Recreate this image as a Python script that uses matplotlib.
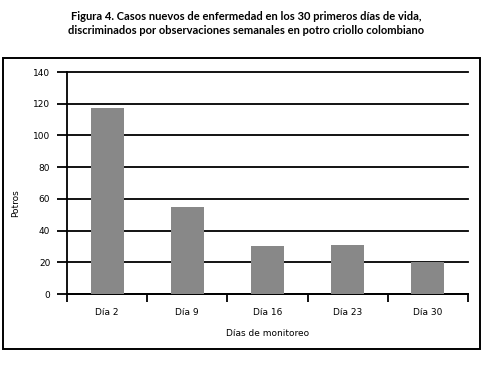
import matplotlib
matplotlib.use("Agg")
import matplotlib.pyplot as plt
from matplotlib.patches import Rectangle
import numpy as np

categories = ["Día 2", "Día 9", "Día 16", "Día 23", "Día 30"]
values = [117, 55, 30, 31, 20]
yticks = [0, 20, 40, 60, 80, 100, 120, 140]

W, H = 492, 366
fig = plt.figure(figsize=(W/100, H/100), dpi=100)

def fx(px): return px / W
def fy(py): return 1 - py / H

# outer frame
fig.patches.append(Rectangle((fx(3), fy(349)), fx(480) - fx(3), fy(58) - fy(349),
                             transform=fig.transFigure, fill=False, lw=1.4, ec="black"))

ax = fig.add_axes([fx(67), fy(294), fx(468) - fx(67), fy(72) - fy(294)])
x = np.arange(len(categories))
ax.bar(x, values, width=0.41, color="#888888", zorder=3)
ax.set_xlim(-0.5, len(categories) - 0.5)
ax.set_ylim(0, 140)
ax.set_yticks(yticks)
ax.yaxis.grid(True, color="black", lw=1.3, zorder=1)
for gl in ax.get_ygridlines():
    gl.set_clip_on(False)
ax.set_axisbelow(True)
for s in ["top", "right"]:
    ax.spines[s].set_visible(False)
for s in ["left", "bottom"]:
    ax.spines[s].set_linewidth(1.3)
ax.set_xticks(x)
ax.set_xticklabels(categories, fontsize=6.5, family="DejaVu Sans")
ax.tick_params(axis="x", which="major", length=0, pad=10)
ax.set_xticks(np.arange(-0.5, len(categories), 1), minor=True)
ax.tick_params(axis="x", which="minor", length=6, width=1.3, direction="out")
ax.tick_params(axis="y", length=7, width=1.3, labelsize=6.5, pad=5)
ax.set_xlabel("Días de monitoreo", fontsize=6.5, labelpad=9)
ax.set_ylabel("Potros", fontsize=6.5)
ax.yaxis.set_label_coords((20 - 67) / 401, (294 - 203) / 222)

fig.text(0.5, fy(16), "Figura 4. Casos nuevos de enfermedad en los 30 primeros días de vida,",
         ha="center", va="center", fontsize=8, fontweight="bold", family="Lato")
fig.text(0.5, fy(30), "discriminados por observaciones semanales en potro criollo colombiano",
         ha="center", va="center", fontsize=8, fontweight="bold", family="Lato")

fig.savefig("out.png", dpi=100)
